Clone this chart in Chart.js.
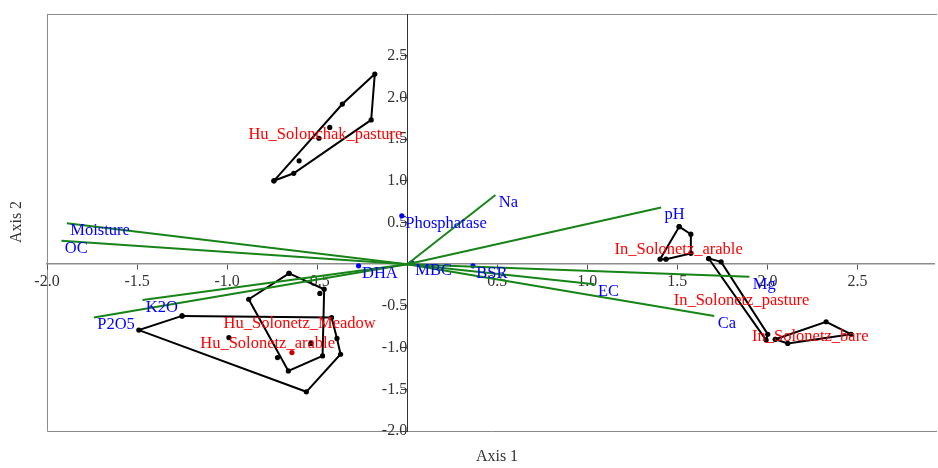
<!DOCTYPE html>
<html><head><meta charset="utf-8">
<script src="https://cdn.jsdelivr.net/npm/chart.js@4.4.0/dist/chart.umd.min.js"></script>
<style>html,body{margin:0;padding:0;background:#fff}#wrap{width:938px;height:468px}</style>
</head><body><div id="wrap"><canvas id="c" width="938" height="468"></canvas></div>
<script>
// ---- tick labels ----
const xTickValues = [-2.0, -1.5, -1.0, -0.5, 0.5, 1.0, 1.5, 2.0, 2.5];
const yTickValues = [-2.0, -1.5, -1.0, -0.5, 0.5, 1.0, 1.5, 2.0, 2.5];

// ---- environmental vectors (arrows from origin) ----
const vectorNames = ['Moisture', 'OC', 'K2O', 'P2O5', 'Na', 'pH', 'EC', 'Mg', 'Ca'];
const vectorX = [-1.89, -1.92, -1.47, -1.74, 0.49, 1.41, 1.04, 1.90, 1.705];
const vectorY = [0.49, 0.28, -0.43, -0.64, 0.83, 0.68, -0.24, -0.15, -0.62];

// ---- passive variables (points) ----
const passiveNames = ['DHA', 'Phosphatase', 'MBC', 'BSR'];
const passiveX = [-0.27, -0.03, 0.026, 0.365];
const passiveY = [-0.02, 0.58, 0.015, -0.02];

// ---- groups: label centres ----
const groupNames = ['Hu_Solonchak_pasture', 'Hu_Solonetz_Meadow', 'Hu_Solonetz_arable',
                    'In_Solonetz_arable', 'In_Solonetz_pasture', 'In_Solonetz_bare'];
const groupLabelX = [-0.454, -0.597, -0.775, 1.507, 1.856, 2.238];
const groupLabelY = [1.55, -0.713, -0.958, 0.18, -0.44, -0.866];

// ---- group hulls and interior sample points ----
const huSolonchakPastureHullX = [-0.74, -0.36, -0.18, -0.20, -0.63];
const huSolonchakPastureHullY = [1.00, 1.92, 2.28, 1.73, 1.09];
const huSolonchakPastureInX = [-0.43, -0.49, -0.60];
const huSolonchakPastureInY = [1.64, 1.51, 1.24];

const huSolonetzMeadowHullX = [-0.656, -0.461, -0.47, -0.66, -0.88];
const huSolonetzMeadowHullY = [-0.11, -0.30, -1.10, -1.28, -0.42];
const huSolonetzMeadowInX = [-0.485, -0.72];
const huSolonetzMeadowInY = [-0.35, -1.12];

const huSolonetzArableHullX = [-1.25, -0.42, -0.39, -0.37, -0.56, -1.49];
const huSolonetzArableHullY = [-0.62, -0.64, -0.89, -1.08, -1.53, -0.79];
const huSolonetzArableInX = [-0.99, -0.535];
const huSolonetzArableInY = [-0.88, -0.95];

const inSolonetzArableHullX = [1.51, 1.575, 1.575, 1.437, 1.404];
const inSolonetzArableHullY = [0.45, 0.36, 0.13, 0.06, 0.06];

const inSolonetzPastureHullX = [1.674, 1.743, 2.002, 1.993];
const inSolonetzPastureHullY = [0.068, 0.028, -0.84, -0.91];

const inSolonetzBareHullX = [2.044, 2.326, 2.465, 2.113];
const inSolonetzBareHullY = [-0.90, -0.69, -0.84, -0.95];

const centroidX = [-0.64];
const centroidY = [-1.06];

// ---- styles ----
const GREEN = '#178417', BLUE = '#0000ff', RED = '#ff0000';
const SERIF = '"Liberation Serif", "Times New Roman", serif';

function pts(xs, ys) { return xs.map((x, i) => ({x: x, y: ys[i]})); }
function closed(xs, ys) { const p = pts(xs, ys); p.push(p[0]); return p; }

const datasets = [];
vectorNames.forEach((n, i) => {
  datasets.push({label: n, data: [{x: 0, y: 0}, {x: vectorX[i], y: vectorY[i]}],
    showLine: true, borderColor: GREEN, borderWidth: 2, pointRadius: 0, tension: 0});
});
const hulls = [
  [huSolonchakPastureHullX, huSolonchakPastureHullY],
  [huSolonetzMeadowHullX, huSolonetzMeadowHullY],
  [huSolonetzArableHullX, huSolonetzArableHullY],
  [inSolonetzArableHullX, inSolonetzArableHullY],
  [inSolonetzPastureHullX, inSolonetzPastureHullY],
  [inSolonetzBareHullX, inSolonetzBareHullY]
];
hulls.forEach((h, i) => {
  datasets.push({label: groupNames[i], data: closed(h[0], h[1]), showLine: true,
    borderColor: '#000', borderWidth: 2, pointRadius: 2.6, pointBackgroundColor: '#000',
    pointBorderWidth: 0, tension: 0});
});
const interiors = [
  [huSolonchakPastureInX, huSolonchakPastureInY],
  [huSolonetzMeadowInX, huSolonetzMeadowInY],
  [huSolonetzArableInX, huSolonetzArableInY]
];
interiors.forEach((h) => {
  datasets.push({data: pts(h[0], h[1]), showLine: false, pointRadius: 2.6,
    pointBackgroundColor: '#000', pointBorderWidth: 0});
});
datasets.push({data: pts(centroidX, centroidY), showLine: false, pointRadius: 2.6,
  pointBackgroundColor: '#c00000', pointBorderWidth: 0});
datasets.push({data: pts(passiveX, passiveY), showLine: false, pointRadius: 2.6,
  pointBackgroundColor: BLUE, pointBorderWidth: 0});

const annot = {
  id: 'annot',
  beforeDraw(chart) {
    const {ctx, chartArea: a} = chart;
    ctx.save();
    ctx.strokeStyle = '#8a8a8a';
    ctx.lineWidth = 1;
    ctx.beginPath();
    ctx.moveTo(a.left + 0.5, a.top + 0.5);
    ctx.lineTo(937, a.top + 0.5);
    ctx.moveTo(a.left + 0.5, a.top);
    ctx.lineTo(a.left + 0.5, a.bottom + 0.5);
    ctx.lineTo(937, a.bottom + 0.5);
    ctx.stroke();
    ctx.restore();
  },
  afterDatasetsDraw(chart) {
    const {ctx} = chart;
    const xs = chart.scales.x, ys = chart.scales.y;
    ctx.save();
    ctx.font = '16.5px ' + SERIF;
    ctx.textBaseline = 'middle';
    ctx.textAlign = 'left';
    ctx.fillStyle = BLUE;
    vectorNames.forEach((n, i) => {
      ctx.fillText(n, xs.getPixelForValue(vectorX[i]) + 3.4, ys.getPixelForValue(vectorY[i]) + 7.5);
    });
    passiveNames.forEach((n, i) => {
      ctx.fillText(n, xs.getPixelForValue(passiveX[i]) + 3.4, ys.getPixelForValue(passiveY[i]) + 7.5);
    });
    ctx.textAlign = 'center';
    ctx.fillStyle = RED;
    groupNames.forEach((n, i) => {
      ctx.fillText(n, xs.getPixelForValue(groupLabelX[i]), ys.getPixelForValue(groupLabelY[i]));
    });
    ctx.restore();
  },
  afterDraw(chart) {
    const {ctx} = chart;
    ctx.save();
    ctx.font = '16px ' + SERIF;
    ctx.fillStyle = '#333';
    ctx.textAlign = 'center';
    ctx.textBaseline = 'middle';
    ctx.fillText('Axis 1', 497, 457);
    ctx.translate(17, 222);
    ctx.rotate(-Math.PI / 2);
    ctx.fillText('Axis 2', 0, 0);
    ctx.restore();
  }
};

new Chart(document.getElementById('c'), {
  type: 'scatter',
  data: {datasets: datasets},
  options: {
    responsive: false,
    animation: false,
    devicePixelRatio: 1,
    layout: {padding: {left: 47, top: 14, right: 1, bottom: 37}},
    plugins: {legend: {display: false}, tooltip: {enabled: false}},
    scales: {
      x: {
        type: 'linear', min: -2, max: 2.925, position: {y: 0},
        afterBuildTicks: (axis) => { axis.ticks = xTickValues.map(v => ({value: v})); },
        ticks: {callback: (v) => Number(v).toFixed(1), color: '#333', padding: 3,
          font: {family: SERIF, size: 16}, maxRotation: 0, autoSkip: false},
        grid: {drawOnChartArea: false, drawTicks: true, tickLength: 5, color: '#555'},
        border: {display: true, color: '#8c8c8c', width: 1.5}
      },
      y: {
        type: 'linear', min: -2, max: 3, position: {x: 0},
        afterBuildTicks: (axis) => { axis.ticks = yTickValues.map(v => ({value: v})); },
        ticks: {callback: (v) => Number(v).toFixed(1), color: '#333', padding: 1,
          font: {family: SERIF, size: 16}, autoSkip: false},
        grid: {drawOnChartArea: false, drawTicks: true, tickLength: 6, color: '#444'},
        border: {display: true, color: '#333', width: 1}
      }
    }
  },
  plugins: [annot]
});
</script>
</body></html>
